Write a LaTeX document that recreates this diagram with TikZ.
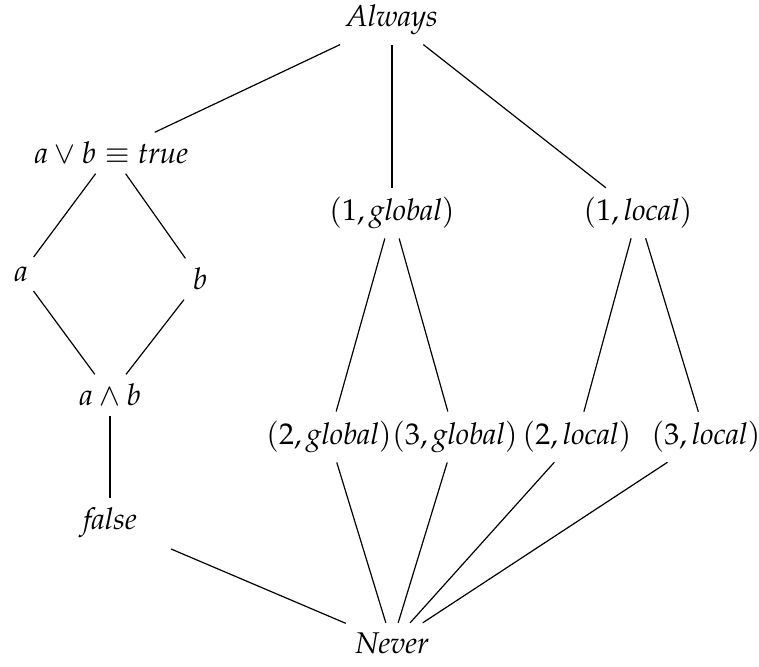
\documentclass[tikz,border=0pt]{standalone}
\usepackage[T1]{fontenc}
\usepackage{mathpazo}
\begin{document}
\begin{tikzpicture}[x=0.3333pt,y=-0.3333pt, lat/.style={inner sep=3pt}, edge/.style={draw, line width=0.4pt}]
\useasboundingbox (0,0) rectangle (759,666);
\node[lat] (top) at (392,20) {\textit{Always}};
\node[lat] (ab) at (111,153) {$a \vee b \equiv \textit{true}$};
\node[lat] (g1) at (392,213) {$(1,\textit{global})$};
\node[lat] (l1) at (638,213) {$(1,\textit{local})$};
\node[lat] (a) at (21,274) {$a$};
\node[lat] (b) at (200,279) {$b$};
\node[lat] (anb) at (110,395) {$a \wedge b$};
\node[lat] (g2) at (329,437) {$(2,\textit{global})$};
\node[lat] (g3) at (455,437) {$(3,\textit{global})$};
\node[lat] (l2) at (577,437) {$(2,\textit{local})$};
\node[lat] (l3) at (706,437) {$(3,\textit{local})$};
\node[lat] (f) at (110,523) {\textit{false}};
\node[lat] (bot) at (392,643) {\textit{Never}};
\draw[edge] (top) -- (ab);
\draw[edge] (top) -- (g1);
\draw[edge] (top) -- (l1);
\draw[edge] (ab) -- (a);
\draw[edge] (ab) -- (b);
\draw[edge] (a) -- (anb);
\draw[edge] (b) -- (anb);
\draw[edge] (anb) -- (f);
\draw[edge, shorten <=9pt] (f) -- (bot);
\draw[edge] (g1) -- (g2);
\draw[edge] (g1) -- (g3);
\draw[edge] (l1) -- (l2);
\draw[edge] (l1) -- (l3);
\draw[edge] (g2) -- (bot);
\draw[edge] (g3) -- (bot);
\draw[edge] (l2) -- (bot);
\draw[edge] (l3) -- (bot);
\end{tikzpicture}
\end{document}
